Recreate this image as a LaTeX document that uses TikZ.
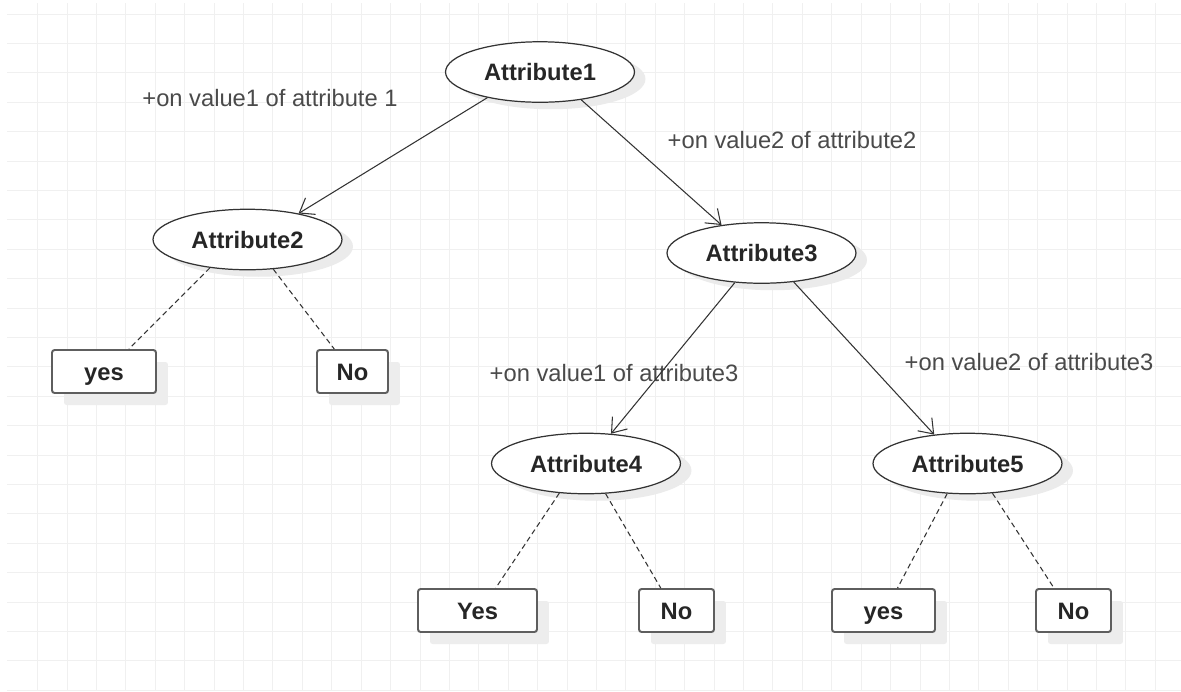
\documentclass[tikz,border=0pt]{standalone}
\usepackage{fontspec}
\setmainfont{Liberation Sans}
\usetikzlibrary{shapes.geometric,arrows.meta,shadows}
\definecolor{gridc}{HTML}{F0F0F0}
\definecolor{edgec}{HTML}{333333}
\definecolor{boxc}{HTML}{5E5E5E}
\definecolor{txtc}{HTML}{262626}
\definecolor{lblc}{HTML}{4A4A4A}
\tikzset{
  gridl/.style={draw=gridc, line width=0.55pt},
  attr/.style={ellipse, draw=edgec, line width=0.7pt, fill=white, minimum width=3.78cm, minimum height=1.21cm, inner sep=0pt,
    text=txtc, font=\bfseries\fontsize{13.5}{16}\selectfont, text height=0.34cm, text depth=0pt,
    drop shadow={shadow xshift=0.22cm, shadow yshift=-0.14cm, fill=black!8, opacity=1}},
  leaf/.style={rectangle, rounded corners=1.5pt, draw=boxc, line width=1.1pt, fill=white, minimum height=0.86cm, inner sep=0pt,
    text=txtc, font=\bfseries\fontsize{13.5}{16}\selectfont, text height=0.34cm, text depth=0pt,
    drop shadow={shadow xshift=0.24cm, shadow yshift=-0.24cm, fill=black!7, opacity=1}},
  lbl/.style={text=lblc, font=\fontsize{13.5}{16}\selectfont, inner sep=0pt},
  arr/.style={draw=edgec, line width=0.6pt, -{Straight Barb[length=7.5pt,width=11pt,line width=0.6pt]}},
  dsh/.style={draw=edgec, line width=0.6pt, dash pattern=on 3pt off 2pt},
}
\begin{document}
\begin{tikzpicture}[x=0.02cm, y=-0.02cm]
\useasboundingbox[fill=white] (0,0) rectangle (1181,691);
\foreach \gx in {37.7,67.11,...,1181} \draw[gridl] (\gx,3) -- (\gx,691);
\foreach \gy in {14,43.4,...,691} \draw[gridl] (7,\gy) -- (1181,\gy);

\node[attr] (a1) at (540,72) {Attribute1};
\node[attr] (a2) at (247.5,239.5) {Attribute2};
\node[attr] (a3) at (761.5,253) {Attribute3};
\node[attr] (a4) at (586,463.5) {Attribute4};
\node[attr] (a5) at (967.5,463.5) {Attribute5};

\node[leaf, minimum width=2.08cm] (yes1) at (104,371.5) {yes};
\node[leaf, minimum width=1.42cm] (no1) at (352.5,371.5) {No};
\node[leaf, minimum width=2.38cm] (yes2) at (477.5,610.5) {Yes};
\node[leaf, minimum width=1.50cm] (no2) at (676.5,610.5) {No};
\node[leaf, minimum width=2.06cm] (yes3) at (883.5,610.5) {yes};
\node[leaf, minimum width=1.50cm] (no3) at (1073.5,610.5) {No};

\node[lbl] (l1) at (270,98) {+on value1 of attribute 1};
\node[lbl] (l2) at (792,140) {+on value2 of attribute2};
\node[lbl] (l3) at (614,373) {+on value1 of attribute3};
\node[lbl] (l4) at (1029,362) {+on value2 of attribute3};

\draw[arr] (a1.206) -- (a2.27);
\draw[arr] (a1.326) -- (a3.145);
\draw[arr] (a3.228) -- (a4.50);
\draw[arr] (a3.318) -- (a5.139);

\draw[dsh] (a2.217) -- (yes1.42);
\draw[dsh] (a2.311) -- (no1.129);
\draw[dsh] (a4.228) -- (yes2.51);
\draw[dsh] (a4.303) -- (no2.125);
\draw[dsh] (a5.236) -- (yes3.58);
\draw[dsh] (a5.310) -- (no3.131);
\end{tikzpicture}
\end{document}
